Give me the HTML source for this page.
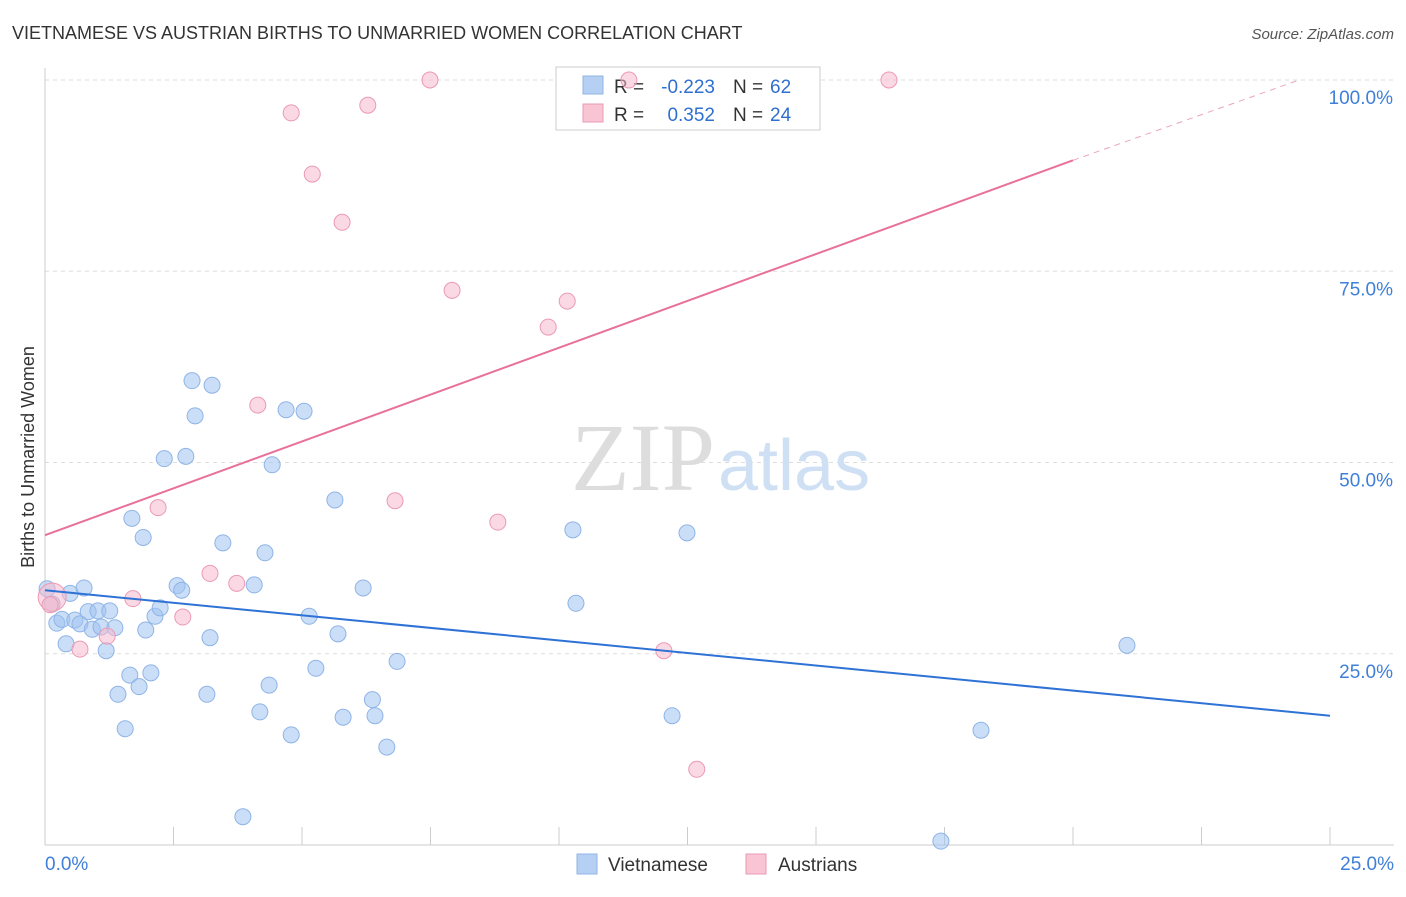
<!DOCTYPE html>
<html><head><meta charset="utf-8"><style>
body{margin:0;background:#fff;font-family:"Liberation Sans",sans-serif}
</style></head><body>
<svg id="c" width="1406" height="892" xmlns="http://www.w3.org/2000/svg">
<text x="12" y="39" font-size="18" fill="#333">VIETNAMESE VS AUSTRIAN BIRTHS TO UNMARRIED WOMEN CORRELATION CHART</text>
<text x="1394" y="39" font-size="15" fill="#555" text-anchor="end" font-style="italic">Source: ZipAtlas.com</text>
<g id="grid"></g>
<text x="715" y="490" font-size="96" font-family="Liberation Serif,serif" fill="#ddd" text-anchor="end">ZIP</text>
<text x="718" y="490" font-size="72" fill="#cfe0f5">atlas</text>
<g>
<rect x="556" y="67" width="264" height="63" fill="#fff" stroke="#ccc"/>
<rect x="583" y="76" width="20" height="18" fill="#b6d0f3" stroke="#8fb4e6"/>
<rect x="583" y="104" width="20" height="18" fill="#f9c5d5" stroke="#eb9ab3"/>
<text x="614" y="93" font-size="19" fill="#333">R =</text>
<text x="715" y="93" font-size="19" fill="#2f6fd0" text-anchor="end">-0.223</text>
<text x="733" y="93" font-size="19" fill="#333">N =</text>
<text x="770" y="93" font-size="19" fill="#2f6fd0">62</text>
<text x="614" y="121" font-size="19" fill="#333">R =</text>
<text x="715" y="121" font-size="19" fill="#2f6fd0" text-anchor="end">0.352</text>
<text x="733" y="121" font-size="19" fill="#333">N =</text>
<text x="770" y="121" font-size="19" fill="#2f6fd0">24</text>
</g>
<g id="marks"></g>
<text transform="translate(34,457) rotate(-90)" font-size="18" fill="#333" text-anchor="middle">Births to Unmarried Women</text>
<g>
<rect x="577" y="854" width="20" height="20" fill="#b6d0f3" stroke="#8fb4e6"/>
<text x="608" y="871" font-size="19" fill="#333">Vietnamese</text>
<rect x="746" y="854" width="20" height="20" fill="#f9c5d5" stroke="#eb9ab3"/>
<text x="778" y="871" font-size="19" fill="#333">Austrians</text>
</g>
</svg>
<script>
const yTicks=[25,50,75,100];
const yTickLabels=["25.0%","50.0%","75.0%","100.0%"];
const xTicks=[0,2.5,5,7.5,10,12.5,15,17.5,20,22.5,25];
const viX=[0.04,0.14,0.23,0.33,0.41,0.49,0.58,0.68,0.76,0.84,0.92,1.03,1.09,1.19,1.26,1.36,1.42,1.56,1.65,1.69,1.83,1.91,1.96,2.06,2.14,2.24,2.32,2.57,2.66,2.74,2.86,2.92,3.15,3.21,3.25,3.46,3.85,4.07,4.18,4.28,4.36,4.42,4.69,4.79,5.04,5.14,5.27,5.64,5.70,5.80,6.19,6.37,6.42,6.65,6.85,10.27,10.33,12.2,12.49,17.43,18.21,21.05];
const viY=[33.5,31.5,29.0,29.5,26.3,32.9,29.4,28.9,33.6,30.5,28.2,30.6,28.5,25.4,30.6,28.4,19.7,15.2,22.2,42.7,20.7,40.2,28.1,22.5,29.9,31.0,50.5,33.9,33.3,50.8,60.7,56.1,19.7,27.1,60.1,39.5,3.7,34.0,17.4,38.2,20.9,49.7,56.9,14.4,56.7,29.9,23.1,45.1,27.6,16.7,33.6,19.0,16.9,12.8,24.0,41.2,31.6,16.9,40.8,0.5,15.0,26.1];
const atX=[0.14,0.68,1.21,1.71,2.20,2.68,3.21,3.73,4.14,4.79,5.20,5.78,6.28,6.81,7.49,7.92,8.81,9.79,10.16,11.36,12.04,12.68,16.42,0.1];
const atY=[32.4,25.6,27.3,32.2,44.1,29.8,35.5,34.2,57.5,95.7,87.7,81.4,96.7,45.0,100,72.5,42.2,67.7,71.1,100,25.4,9.9,100,31.4];
const viTrend=[33.3,16.9];
const atTrend=[40.5,89.5];
const atTrendEnd=[24.4,100];
const NS="http://www.w3.org/2000/svg";
const X=v=>45+v/25*1285, Y=v=>845-v/100*765;
const grid=document.getElementById('grid'), marks=document.getElementById('marks');
function el(t,a,p){const e=document.createElementNS(NS,t);for(const k in a)e.setAttribute(k,a[k]);p.appendChild(e);return e;}
yTicks.forEach((t,i)=>{
  const l=el('line',{x1:45,x2:1394,y1:Y(t),y2:Y(t),stroke:'#ddd','stroke-dasharray':'4 4'},grid);
  
  
  const tx=el('text',{x:1393,y:Y(t)+24,'font-size':19,fill:'#3f7fd8','text-anchor':'end'},grid);
  tx.textContent=yTickLabels[i];
  
  
});
const ax=el('line',{x1:45,x2:45,y1:68,y2:845,stroke:'#ccc'},grid);


const bx=el('line',{x1:45,x2:1394,y1:845,y2:845,stroke:'#ccc'},grid);


xTicks.forEach(t=>{
  const l=el('line',{x1:X(t),x2:X(t),y1:827,y2:845,stroke:'#ccc'},grid);
  
  
});
[[0,"0.0%",'start',45],[25,"25.0%",'end',1394]].forEach(d=>{
  const tx=el('text',{x:d[3],y:870,'font-size':19,fill:'#3f7fd8','text-anchor':d[2]},grid);
  tx.textContent=d[1];
  
  
});
viX.forEach((x,i)=>{
  const c=el('circle',{cx:X(x),cy:Y(viY[i]),r:8,fill:'rgba(160,195,240,0.55)',stroke:'#8fb4e6','stroke-width':1},marks);
  
  
});
atX.forEach((x,i)=>{
  const c=el('circle',{cx:X(x),cy:Y(atY[i]),r:i==0?14:8,fill:'rgba(248,185,205,0.55)',stroke:'#eb9ab3','stroke-width':1},marks);
  
  
});
const l1=el('line',{x1:X(0),y1:Y(viTrend[0]),x2:X(25),y2:Y(viTrend[1]),stroke:'#2f72d6','stroke-width':2},marks);


const l2=el('line',{x1:X(0),y1:Y(atTrend[0]),x2:X(20),y2:Y(atTrend[1]),stroke:'#e8709a','stroke-width':2},marks);


const l3=el('line',{x1:X(20),y1:Y(atTrend[1]),x2:X(atTrendEnd[0]),y2:Y(atTrendEnd[1]),stroke:'#eba5bd','stroke-width':1,'stroke-dasharray':'6 5'},marks);


</script>
</body></html>
